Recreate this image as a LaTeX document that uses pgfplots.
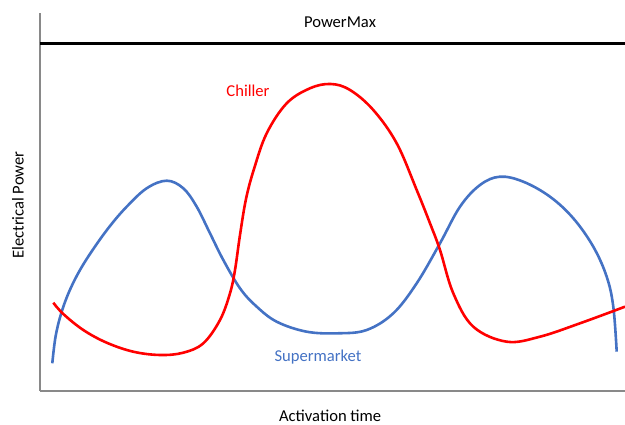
\documentclass[border=0pt]{standalone}
\usepackage{pgfplots}
\pgfplotsset{compat=1.18}
\usepackage{fontspec}
\setmainfont{Carlito}
\definecolor{smblue}{HTML}{4472C4}
\definecolor{axgray}{HTML}{898989}
\begin{document}
\fontsize{16.6}{20}\selectfont
\begin{tikzpicture}
\begin{axis}[
  scale only axis,
  width=585pt, height=378pt,
  xmin=40, xmax=625, ymin=34, ymax=412,
  axis lines=left,
  axis line style={-, axgray, line width=1.4pt},
  xtick=\empty, ytick=\empty,
  clip=false,
  xlabel={Activation time},
  ylabel={Electrical Power},
  xlabel style={at={(axis description cs:0.496,-0.066)}, anchor=center},
  ylabel style={at={(axis description cs:-0.0376,0.492)}, anchor=center, rotate=0},
  every axis label/.append style={font=\fontsize{16.6}{20}\selectfont},
]
\addplot[black, line width=3pt] coordinates {(40,381) (625,381)};
\addplot[smblue, line width=2.6pt, smooth, tension=0.6] coordinates {
(52.3,61.7) (55.5,88) (61,111) (69,133) (80,155) (94,177) (110,199)
(126.7,218.3) (146.7,236.7) (166.7,244.3) (183.3,236.7) (196.7,218.3)
(210,191.7) (223.3,165) (240,136.7) (256,119) (276.7,103.3)
(306.7,93.3) (338.3,91.7) (366.7,95) (393.3,111.7) (416.7,141.7)
(440,181.7) (460,218.3) (480,240) (500,248.3) (523.3,243.3) (550,228.3)
(573.3,206.7) (593.3,178.3) (606.7,148.3) (613.3,118.3) (616.7,73.3)
};
\addplot[red, line width=2.6pt, smooth, tension=0.6] coordinates {
(53.3,122.3) (63.3,111) (83.3,95) (106.7,82.3) (133.3,73.3) (160,70)
(183.3,72.3) (203.3,81.7) (220,105) (230,131.7) (235,155) (240,190)
(246,226) (254,256) (266.7,291.7) (286.7,321.7) (310,336.7) (330.7,341)
(350,335) (373.3,315) (396.7,281.7) (416.7,235) (430,201.7) (440,175)
(453.3,131.7) (473.3,98.3) (506.7,83.3) (540,88.3) (580,101.7) (625,118.3)
};
\node[anchor=center] at (axis cs:340,403) {PowerMax};
\node[anchor=center, text=red] at (axis cs:248,334) {Chiller};
\node[anchor=center, text=smblue] at (axis cs:318,68) {Supermarket};
\coordinate (BL) at (axis cs:0,0);
\coordinate (TR) at (axis cs:625,425);
\end{axis}
\pgfresetboundingbox
\path[use as bounding box] (BL) rectangle (TR);
\end{tikzpicture}
\end{document}
